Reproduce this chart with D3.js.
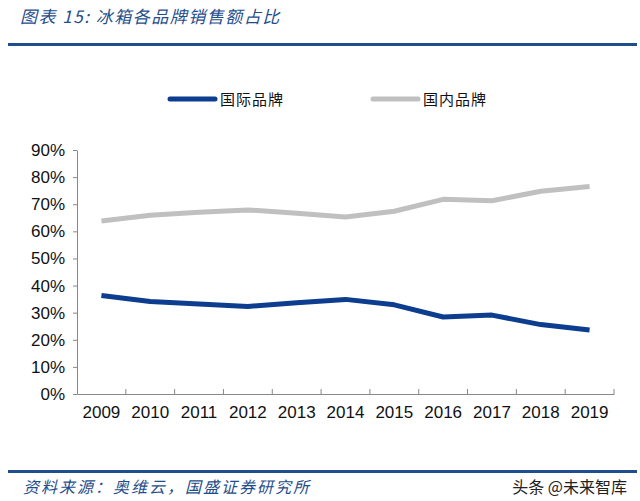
<!DOCTYPE html>
<html>
<head>
<meta charset="utf-8">
<script src="https://cdn.jsdelivr.net/npm/d3@7"></script>
<style>
  body { margin: 0; background: #fff; }
  svg text { font-family: "Liberation Sans", Arial, sans-serif; }
</style>
</head>
<body>
<div id="chart"></div>
<script>
"use strict";

var years = ["2009","2010","2011","2012","2013","2014","2015","2016","2017","2018","2019"];
var intlShare = [36.3, 34.1, 33.2, 32.3, 33.7, 34.9, 32.9, 28.4, 29.1, 25.6, 23.6];
var domesticShare = [63.8, 65.9, 67.0, 67.9, 66.7, 65.3, 67.4, 71.8, 71.3, 74.8, 76.5];
var yTicks = [0, 10, 20, 30, 40, 50, 60, 70, 80, 90];
var seriesNames = ["国际品牌", "国内品牌"];
var seriesColors = ["#0d3d8e", "#c0c0c0"];

var W = 640, H = 501;
var svg = d3.select("#chart").append("svg").attr("width", W).attr("height", H);

// header + footer
svg.append("text").attr("x", 20).attr("y", 23)
    .attr("fill", "#1f4e8c").attr("font-size", 17).attr("font-style", "italic")
    .style("font-family", "'Noto Sans CJK SC', sans-serif").style("letter-spacing", "1.5px")
    .text("图表 15:  冰箱各品牌销售额占比");
svg.append("rect").attr("x", 8).attr("y", 43).attr("width", 629).attr("height", 3).attr("fill", "#1f4e8c");
svg.append("rect").attr("x", 8).attr("y", 470).attr("width", 629).attr("height", 3).attr("fill", "#1f4e8c");
svg.append("text").attr("x", 23).attr("y", 493)
    .attr("fill", "#1f4e8c").attr("font-size", 16).attr("font-style", "italic")
    .style("font-family", "'Noto Sans CJK SC', sans-serif").style("letter-spacing", "2px")
    .text("资料来源：奥维云，国盛证券研究所");
svg.append("text").attr("x", 627).attr("y", 493).attr("text-anchor", "end")
    .attr("fill", "#222").attr("font-size", 16)
    .style("font-family", "'Noto Sans CJK SC', sans-serif")
    .text("头条 @未来智库");

// scales
var x = d3.scaleBand().domain(years).range([77, 614]);
var y = d3.scaleLinear().domain([0, 90]).range([394, 150]);

var yAxis = d3.axisLeft(y).tickValues(yTicks).tickSize(4).tickSizeOuter(0).tickFormat(d => d + "%");
var gy = svg.append("g").attr("transform", "translate(77,0)").call(yAxis);
gy.selectAll("path, line").attr("stroke", "#888");
gy.selectAll("text").attr("font-size", 17).attr("fill", "#111").attr("x", -12);

var xAxis = d3.axisBottom(x).tickSize(0).tickSizeOuter(0);
var gx = svg.append("g").attr("transform", "translate(0,394)").call(xAxis);
gx.select("path").attr("stroke", "#888");
gx.selectAll("text").attr("font-size", 17).attr("fill", "#111").attr("dy", "1.25em");
// upward tick marks at band edges
gx.selectAll("line.edge").data(years).enter().append("line")
    .attr("class", "edge")
    .attr("x1", d => x(d) + x.bandwidth()).attr("x2", d => x(d) + x.bandwidth())
    .attr("y1", 0).attr("y2", -5).attr("stroke", "#888");

var line = d3.line().x((d, i) => x(years[i]) + x.bandwidth() / 2).y(d => y(d));
[intlShare, domesticShare].forEach(function(s, k){
    svg.append("path").datum(s).attr("d", line)
        .attr("fill", "none").attr("stroke", seriesColors[k]).attr("stroke-width", 5)
        .attr("stroke-linejoin", "round");
});

// legend
var legX = [170, 373];
seriesNames.forEach(function(n, k){
    svg.append("line").attr("x1", legX[k]).attr("x2", legX[k] + 45).attr("y1", 99).attr("y2", 99)
        .attr("stroke", seriesColors[k]).attr("stroke-width", 5).attr("stroke-linecap", "round");
    svg.append("text").attr("x", legX[k] + 50).attr("y", 105).attr("font-size", 15).attr("fill", "#111")
        .style("font-family", "'Noto Sans CJK SC', sans-serif").style("letter-spacing", "1px")
        .text(n);
});
</script>
</body>
</html>
